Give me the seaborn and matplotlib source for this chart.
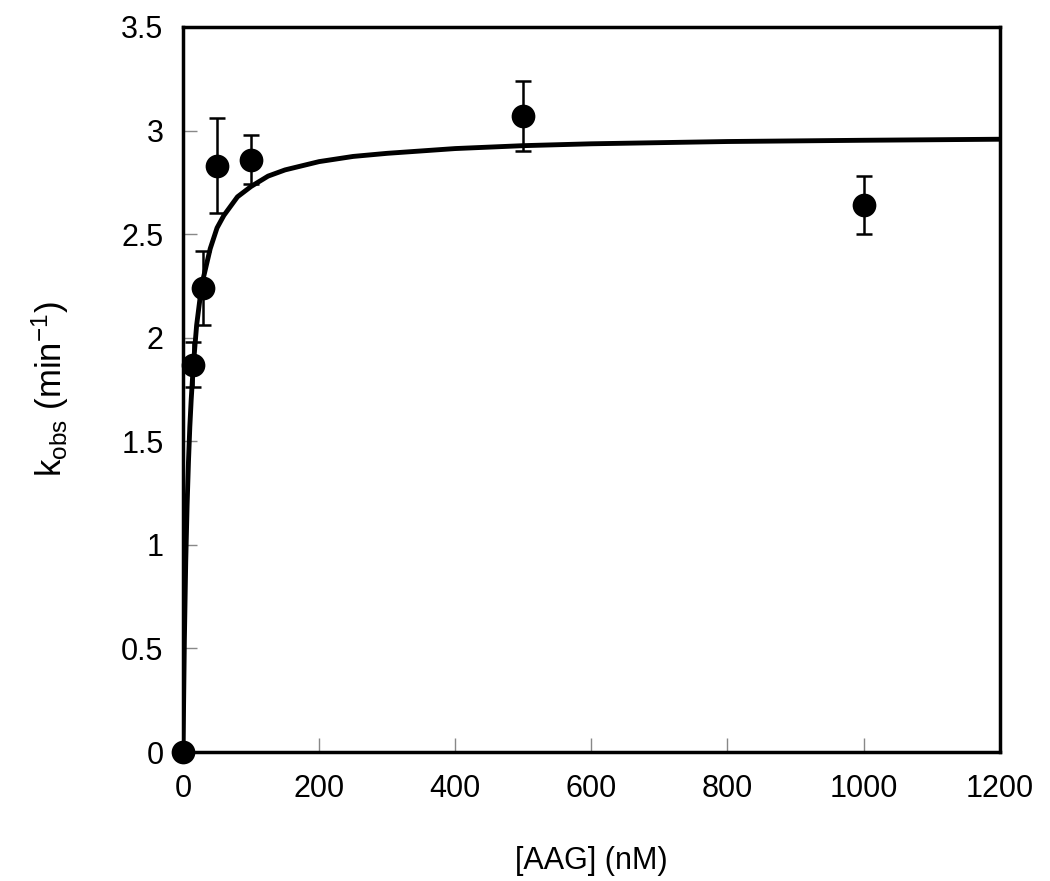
import numpy as np
import pandas as pd
import seaborn as sns
import matplotlib.pyplot as plt

# measured points (nM, min^-1) and error bars
aag = [0, 15, 30, 50, 100, 500, 1000]
kobs = [0.0, 1.87, 2.24, 2.83, 2.86, 3.07, 2.64]
kerr = [0.0, 0.11, 0.18, 0.23, 0.12, 0.17, 0.14]

# fitted curve
fit_x = [0, 2, 4, 6, 8, 10, 12, 15, 20, 25, 30, 40, 50, 60, 80, 100,
         125, 150, 200, 250, 300, 400, 500, 600, 800, 1000, 1200]
fit_y = [0.0, 0.54, 0.92, 1.19, 1.40, 1.57, 1.70, 1.86, 2.06, 2.19, 2.29,
         2.43, 2.53, 2.59, 2.68, 2.73, 2.78, 2.81, 2.85, 2.875, 2.89, 2.913,
         2.927, 2.936, 2.947, 2.953, 2.958]

xticks = [0, 200, 400, 600, 800, 1000, 1200]
yticks = [0, 0.5, 1, 1.5, 2, 2.5, 3, 3.5]

sns.set_style("white")
plt.rcParams['font.family'] = ['Liberation Sans', 'DejaVu Sans']
plt.rcParams['mathtext.default'] = 'regular'
plt.rcParams['text.color'] = 'black'
plt.rcParams['axes.labelcolor'] = 'black'
plt.rcParams['xtick.color'] = 'black'
plt.rcParams['ytick.color'] = 'black'

fig = plt.figure(figsize=(10.5, 8.81), dpi=100)
ax = fig.add_axes([0.1743, 0.1464, 0.7777, 0.823])

pts = pd.DataFrame({"x": aag, "y": kobs})
fit = pd.DataFrame({"x": fit_x, "y": fit_y})

sns.lineplot(data=fit, x="x", y="y", ax=ax, color="black", linewidth=3.5)
ax.errorbar(aag, kobs, yerr=kerr, fmt="none", ecolor="black",
            elinewidth=1.8, capsize=6, capthick=1.8, clip_on=False)
sns.scatterplot(data=pts, x="x", y="y", ax=ax, color="black", s=250,
                edgecolor="black", zorder=5, clip_on=False)

ax.set_xlim(0, 1200)
ax.set_ylim(0, 3.5)
ax.set_xticks(xticks)
ax.set_yticks(yticks)
ax.set_yticklabels([f"{t:g}" for t in yticks])
ax.tick_params(axis="both", direction="in", length=10, width=1,
               color="#888888", labelcolor="black", labelsize=22,
               bottom=True, left=True, top=False, right=False)
ax.tick_params(axis="y", pad=14)
ax.tick_params(axis="x", pad=16)

for s in ax.spines.values():
    s.set_linewidth(2.5)
    s.set_color("black")

ax.set_xlabel("[AAG] (nM)", fontsize=22, labelpad=30)
ax.set_ylabel("k$_{obs}$ (min$^{-1}$)", fontsize=25, labelpad=36)

fig.savefig("out.png", dpi=100)
